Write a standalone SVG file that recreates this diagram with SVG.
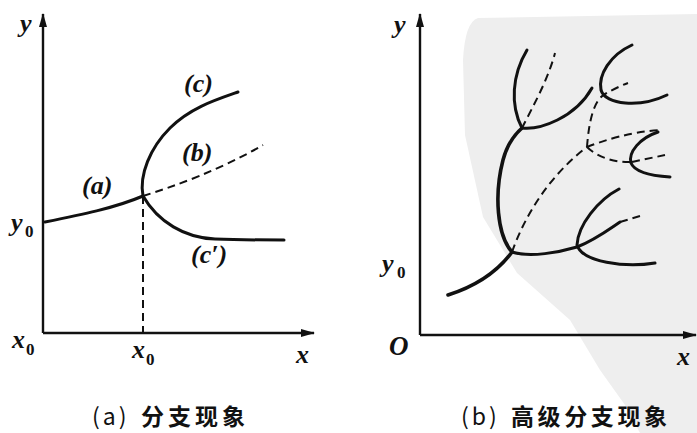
<svg xmlns="http://www.w3.org/2000/svg" width="697" height="433" viewBox="0 0 697 433">
<defs>
<style>
.axis{stroke:#111;stroke-width:2.4;fill:none}
.curve{stroke:#111;stroke-width:3;fill:none;stroke-linecap:round}
.thick{stroke:#111;stroke-width:3.6;fill:none;stroke-linecap:round}
.dash{stroke:#111;stroke-width:2;fill:none;stroke-dasharray:8 5}
.lbl{font-family:"Liberation Serif",serif;font-style:italic;font-weight:bold;fill:#111}
.sub{font-family:"Liberation Serif",serif;font-weight:bold;fill:#111}
.cap{font-family:"Noto Sans CJK SC","Liberation Sans",sans-serif;font-weight:bold;fill:#111;font-size:23px;letter-spacing:4px}
.par{font-family:"Noto Sans CJK SC","Liberation Sans",sans-serif;fill:#111;font-size:23px;letter-spacing:3px}
</style>
<marker id="arr" viewBox="0 0 14 8" refX="13" refY="4" markerWidth="14" markerHeight="8" markerUnits="userSpaceOnUse" orient="auto">
<path d="M0,0 L14,4 L0,8 Z" fill="#111"/>
</marker>
</defs>
<rect width="697" height="433" fill="#fff"/>
<path id="watermark" d="M478,18 L697,14 L697,433 L640,433 L625,405 L600,370 L570,320 L517,273 L483,217 L465,135 L463,60 Q465,22 478,18 Z" fill="#eeeeee"/>

<g id="panel-a">
<g id="axes-a">
<path class="axis" d="M43,333 V14" marker-end="url(#arr)"/>
<path class="axis" d="M43,333 H314" marker-end="url(#arr)"/>
</g>
<g id="connectors-a">
<path class="curve" d="M45,222 C80,215 115,208 143,196"/>
<path class="curve" d="M143,196 C139,175 150,148 170,128 S215,100 238,92"/>
<path class="curve" d="M143,196 C158,222 185,238 215,239 C240,240 265,240 284,240"/>
<path class="dash" d="M143,196 C175,186 220,170 263,145"/>
<path class="dash" d="M143,196 V333"/>
</g>
<g id="labels-a">
<text class="lbl" x="20" y="32" font-size="26">y</text>
<text class="lbl" x="11" y="231" font-size="26">y</text><text class="sub" x="25" y="237" font-size="17">0</text>
<text class="lbl" x="12" y="348" font-size="26">x</text><text class="sub" x="26" y="355" font-size="17">0</text>
<text class="lbl" x="132" y="358" font-size="26">x</text><text class="sub" x="146" y="365" font-size="17">0</text>
<text class="lbl" x="296" y="363" font-size="26">x</text>
<text class="lbl" x="82" y="194" font-size="26">(a)</text>
<text class="lbl" x="184" y="92" font-size="26">(c)</text>
<text class="lbl" x="182" y="161" font-size="26">(b)</text>
<text class="lbl" x="191" y="263" font-size="26">(c′)</text>
</g>
<g id="caption-a">
<text class="par" x="92" y="425">(a)</text>
<text class="cap" x="141" y="425">分支现象</text>
</g>
</g>

<g id="panel-b">
<g id="axes-b">
<path class="axis" d="M420,335 V14" marker-end="url(#arr)"/>
<path class="axis" d="M420,335 H696" marker-end="url(#arr)"/>
</g>
<g id="connectors-b">
<path class="thick" d="M448,295 C470,288 495,275 512,252"/>
<path class="thick" d="M512,252 C497,235 494,195 503,160 C507,145 513,136 522,128"/>
<path class="curve" d="M512,252 C530,258 560,252 577,247 C595,240 608,230 620,222"/>
<path class="dash" d="M620,222 L640,216"/>
<path class="dash" d="M512,252 C525,215 550,175 587,147"/>
<path class="curve" d="M522,128 C510,105 512,75 527,50"/>
<path class="curve" d="M522,128 C540,130 575,118 592,88"/>
<path class="dash" d="M522,128 C532,108 548,80 555,53"/>
<path class="dash" d="M587,147 C589,120 594,100 605,94 C612,90 620,86 628,83"/>
<path class="curve" d="M632,45 C610,55 598,75 601,90 C605,105 640,108 667,95"/>
<path class="dash" d="M587,147 C605,140 630,132 660,130"/>
<path class="dash" d="M587,147 C597,157 615,163 632,162"/>
<path class="curve" d="M658,132 C640,138 628,152 631,163 C635,173 655,176 670,177"/>
<path class="dash" d="M632,162 L665,155"/>
<path class="curve" d="M619,189 C598,200 578,225 577,245 C582,262 625,268 655,263"/>
</g>
<g id="labels-b">
<text class="lbl" x="394" y="33" font-size="26">y</text>
<text class="lbl" x="382" y="272" font-size="26">y</text><text class="sub" x="397" y="278" font-size="17">0</text>
<text class="lbl" x="389" y="355" font-size="27">O</text>
<text class="lbl" x="677" y="365" font-size="26">x</text>
</g>
<g id="caption-b">
<text class="par" x="461" y="425">(b)</text>
<text class="cap" x="511" y="425" style="letter-spacing:3.6px">高级分支现象</text>
</g>
</g>
</svg>
